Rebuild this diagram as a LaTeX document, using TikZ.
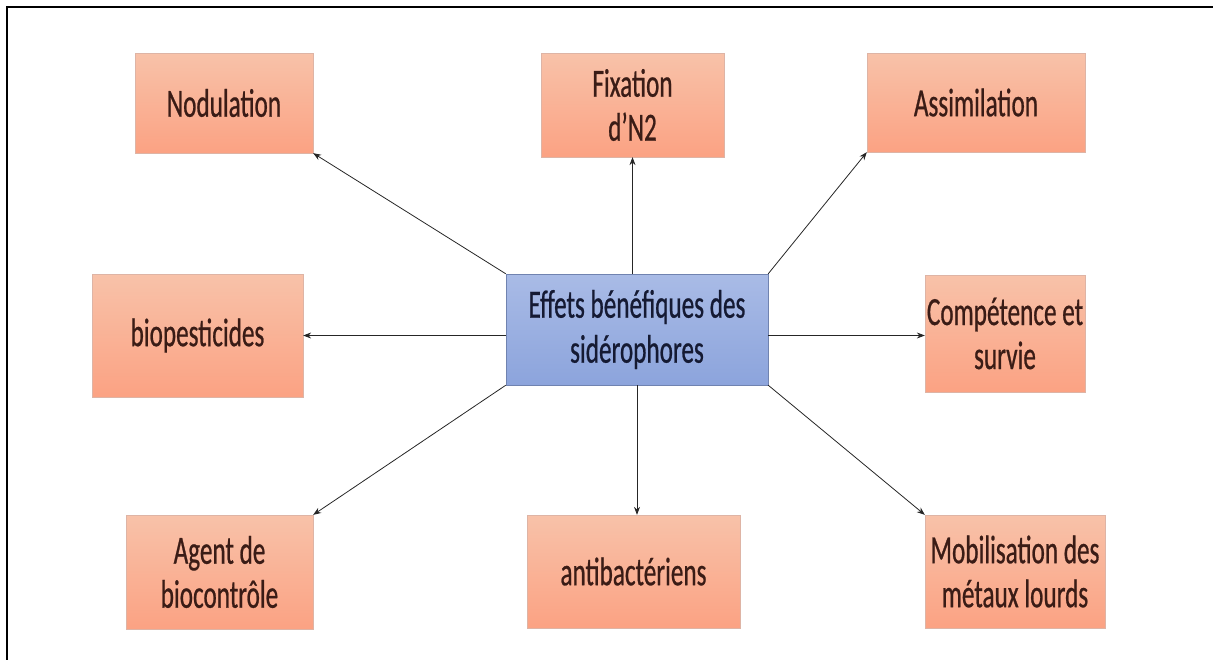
\documentclass[tikz,border=0pt]{standalone}
\usepackage{fontspec}
\setmainfont{Carlito}[FakeStretch=0.63, FakeBold=0.6]
\usetikzlibrary{arrows.meta}
\definecolor{orTop}{HTML}{F8C2A9}
\definecolor{orBot}{HTML}{FBA283}
\definecolor{blTop}{HTML}{A9BBE6}
\definecolor{blBot}{HTML}{8CA4DC}
\definecolor{orTxt}{HTML}{3A1C16}
\definecolor{blTxt}{HTML}{151A33}
\tikzset{
  obox/.style={rectangle, top color=orTop, bottom color=orBot, draw=orBot!80!black!60, line width=0.3pt,
    inner sep=0pt, align=center, text=orTxt, font=\fontsize{40}{44}\selectfont},
  cbox/.style={rectangle, top color=blTop, bottom color=blBot, draw=blBot!80!black, line width=0.4pt,
    inner sep=0pt, align=center, text=blTxt, font=\fontsize{40}{45}\selectfont},
  arr/.style={draw=black!85, line width=0.8pt, -{Stealth[length=8pt,width=6pt]}},
  frame/.style={draw=black, line width=2.5pt}
}
\begin{document}
\begin{tikzpicture}[x=1pt,y=-1pt]
\useasboundingbox (0,0) rectangle (1213,659);
\draw[frame] (7,660) -- (7,7) -- (1214,7);
\node[obox, minimum width=178, minimum height=100] (nod) at (224,103) {Nodulation};
\node[obox, minimum width=183, minimum height=104] (fix) at (632.5,105) {Fixation\\d’N2};
\node[obox, minimum width=218, minimum height=99] (ass) at (976,102.5) {Assimilation};
\node[cbox, minimum width=262, minimum height=111] (c) at (637,329.5) {Effets bénéfiques des\\sidérophores};
\node[obox, minimum width=211, minimum height=123] (bio) at (197.5,335.5) {biopesticides};
\node[obox, minimum width=160, minimum height=117] (comp) at (1005,333.5) {Compétence et\\survie};
\node[obox, minimum width=187, minimum height=114] (agent) at (219.5,572) {Agent de\\biocontrôle};
\node[obox, minimum width=213, minimum height=113] (anti) at (633.5,571.5) {antibactériens};
\node[obox, minimum width=180, minimum height=113] (mob) at (1015,571.5) {Mobilisation des\\métaux lourds};
\draw[arr] (c.north west) -- (nod.south east);
\draw[arr] (c.north -| fix.south) -- (fix.south);
\draw[arr] (c.north east) -- (ass.south west);
\draw[arr] (c.west |- bio.east) -- (bio.east);
\draw[arr] (c.east |- bio.east) -- (comp.west |- bio.east);
\draw[arr] (c.south west) -- (agent.north east);
\draw[arr] (c.south) -- (c.south |- anti.north);
\draw[arr] (c.south east) -- (mob.north west);
\end{tikzpicture}
\end{document}
